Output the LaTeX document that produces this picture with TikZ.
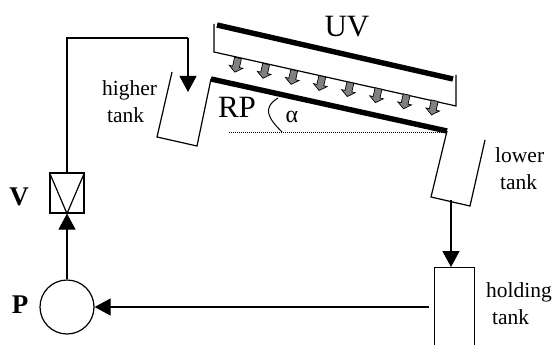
\documentclass[tikz,border=0pt]{standalone}
\usepackage{fontspec}
\setmainfont{Liberation Serif}
\usetikzlibrary{arrows.meta, positioning, calc}
\tikzstyle{wall} = [draw, line width=1.2pt, black]
\tikzstyle{plate} = [line width=5.4pt, black]
\tikzstyle{flow} = [line width=1.2pt, -{Triangle[length=16pt,width=17pt]}, black]
\tikzstyle{pipe} = [line width=1.2pt, black]
\tikzstyle{ray} = [draw=black, fill=gray, line width=0.7pt, line join=miter]
\tikzstyle{small} = [inner sep=0pt, font=\fontsize{21.5}{27}\selectfont, align=left, anchor=west]
\tikzstyle{big} = [inner sep=0pt, font=\fontsize{31}{32}\selectfont]
\tikzstyle{letter} = [inner sep=0pt, font=\fontsize{27}{28}\selectfont\bfseries]

\begin{document}
\begin{tikzpicture}[x=1pt, y=-1pt]
	\useasboundingbox (0,0) rectangle (554,345);

	% Lamp and plate
	\draw[plate] (217,25) -- (453,79);
	\draw[pipe] (214,24) -- (214,52) -- (456,106) -- (456,75);
	\draw[plate] (211,79) -- (447,131);
	\draw[densely dotted, line width=1pt] (229,132) -- (447,132);
	\draw[line width=1pt] (278,98) .. controls (262,108) and (268,118) .. (282,132);

	% UV rays
	\foreach \x in {0,...,7} {
		\draw[ray, shift={({238+\x*28.1},{58+\x*6.1})}, rotate=-12.5]
			(-3.5,0) -- (3.5,0) -- (3.5,9) -- (7,9) -- (0,14.5) -- (-7,9) -- (-3.5,9) -- cycle;
	}

	% Tanks
	\coordinate (lowerA) at (447,131);
	\coordinate (lowerB) at (431,197);
	\coordinate (lowerC) at (470,206);
	\coordinate (lowerD) at (485,140);
	\draw[pipe] (lowerA) -- (lowerB) -- (lowerC) -- (lowerD);
	\coordinate (higherA) at (211,79);
	\coordinate (higherB) at (197,146);
	\coordinate (higherC) at (157,137);
	\coordinate (higherD) at (172,72);
	\draw[pipe] (higherA) -- (higherB) -- (higherC) -- (higherD);
	\node (holding) [wall, minimum width=40pt, minimum height=90pt, anchor=north west, inner sep=0pt] at (434,267) {};

	% Pump and valve
	\node (pump) [wall, circle, minimum size=54pt, inner sep=0pt] at (67,307) {};
	\node (valve) [wall, minimum width=34pt, minimum height=40pt, inner sep=0pt] at (67,193) {};
	\draw[pipe] (valve.north west) -- (valve.south) -- (valve.north east);

	% Flows
	\coordinate (drop) at (188,92);
	\coordinate (corner1) at (67,38);
	\coordinate (corner2) at (188,38);
	\coordinate (lowerout) at (451,200);
	\coordinate (holdout) at (429,307);
	\draw[pipe] (valve.north) -- (corner1) -- (corner2);
	\draw[flow] (corner2) -- (drop);
	\draw[flow] (lowerout) -- (holding.north -| lowerout);
	\draw[flow] (holdout) -- (pump.east);
	\draw[flow] (pump.north) -- (valve.south);

	% Labels
	\node (uvlabel) [big] at (347,27) {UV};
	\node (rplabel) [big] at (237,107) {RP};
	\node (alpha) [inner sep=0pt, font=\fontsize{24}{24}\selectfont] at (292,117) {α};
	\node (higherlabel) [small] at (102,102) {higher\\\hspace{5pt}tank};
	\node (lowerlabel) [small] at (495,169) {lower\\\hspace{5pt}tank};
	\node (holdlabel) [small] at (486,304) {holding\\\hspace{6pt}tank};
	\node (vlabel) [letter] at (19,197) {V};
	\node (plabel) [letter] at (20,305) {P};
\end{tikzpicture}
\end{document}
